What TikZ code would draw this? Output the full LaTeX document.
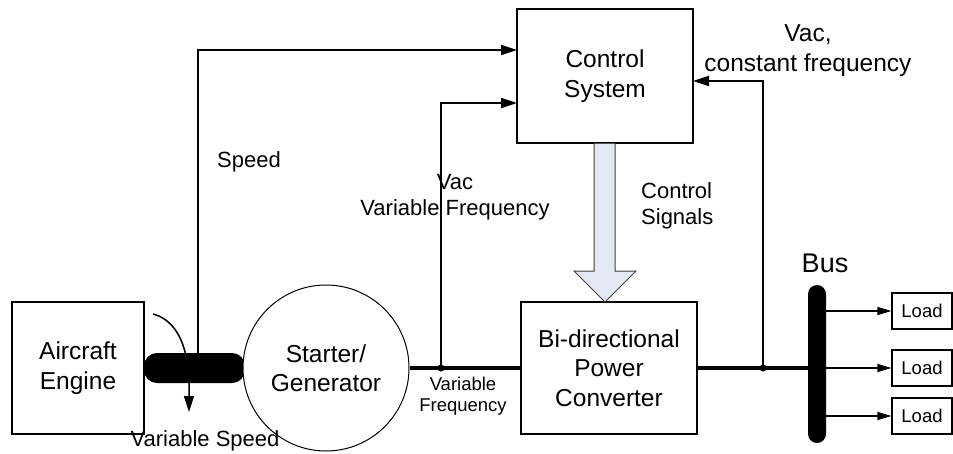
\documentclass[tikz,border=0pt]{standalone}
\usepackage{fontspec}
\setmainfont{Liberation Sans}
\usetikzlibrary{arrows.meta,calc}
\begin{document}
\begin{tikzpicture}[x=1pt,y=-1pt,
  box/.style={draw,line width=1.2pt,fill=white,align=center,inner sep=0pt,font=\fontsize{24.5}{29.5}\selectfont},
  loadbox/.style={draw,line width=1.1pt,minimum width=60pt,minimum height=36pt,inner sep=0pt,font=\fontsize{18.5}{21}\selectfont},
  conn/.style={line width=1.9pt,-{Triangle[length=16pt,width=10pt]}},
  lconn/.style={line width=1.2pt,-{Triangle[length=14pt,width=8pt]}},
  power/.style={line width=3.4pt},
  lbl/.style={inner sep=0pt,align=center,font=\fontsize{22}{26}\selectfont},
  jdot/.style={circle,fill=black,inner sep=0pt,minimum size=7pt}
]
\useasboundingbox (0,0) rectangle (953,453);

% curved rotation arrow (behind shaft)
\draw[line width=1.5pt,-{Triangle[length=16pt,width=10pt]}] (153,314) .. controls (176,320) and (188,345) .. (189,382) -- (189,412);

% shaft
\node[fill=black,rounded corners=13pt,minimum width=101pt,minimum height=30pt,inner sep=0pt] (shaft) at (194.5,368) {};

% blocks
\node[box,minimum width=132pt,minimum height=132pt] (engine) at (78,368) {Aircraft\\Engine};
\node[box,circle,line width=1pt,minimum size=166pt] (sg) at (326,368) {Starter/\\Generator};
\node[box,minimum width=176pt,minimum height=132pt] (conv) at (609,368) {Bi-directional\\Power\\Converter};
\node[box,minimum width=176pt,minimum height=134pt] (ctrl) at (605,76) {Control\\System};

% bus
\node[fill=black,rounded corners=9pt,minimum width=18pt,minimum height=158pt,inner sep=0pt] (bus) at (817,364) {};
\node[lbl,font=\fontsize{27}{30}\selectfont] (buslbl) at (825,263) {Bus};

% loads
\node[loadbox] (l1) at (922,311) {Load};
\node[loadbox] (l2) at (922,368) {Load};
\node[loadbox] (l3) at (922,416) {Load};

% power lines
\draw[power] (sg.east) -- (conv.west);
\draw[power] (conv.east) -- (bus.west |- conv.east);
\node[jdot] (j1) at (441,368) {};
\node[jdot] (j2) at (763,368) {};

% signal connectors
\coordinate (spd) at (198,354);
\coordinate (c1) at (517,50);
\coordinate (c2) at (517,103);
\coordinate (c3) at (693,81);
\draw[conn] (spd) |- (c1);
\draw[conn] (j1.center) |- (c2);
\draw[conn] (j2.center) |- (c3);

% load connectors
\draw[lconn] (bus.east |- l1.west) -- (l1.west);
\draw[lconn] (bus.east |- l2.west) -- (l2.west);
\draw[lconn] (bus.east |- l3.west) -- (l3.west);

% control signals hollow arrow
\draw[line width=1pt,draw=black!75,fill={rgb,255:red,228;green,233;blue,244}]
  (594,143.6) -- (594,271) -- (574,271) -- (605,302) -- (636,271) -- (615,271) -- (615,143.6);

% labels
\node[lbl] (speedlbl) at (249,162) {Speed};
\node[lbl] (vaclbl) at (455,197) {Vac\\Variable Frequency};
\node[lbl,align=left,anchor=west] (cslbl) at (641,206) {Control\\Signals};
\node[lbl,font=\fontsize{24.5}{30}\selectfont] (vcflbl) at (808,51) {Vac,\\constant frequency};
\node[lbl,font=\fontsize{18.5}{21}\selectfont] (vflbl) at (463,396) {Variable\\Frequency};
\node[lbl] (vslbl) at (205,441) {Variable Speed};
\end{tikzpicture}
\end{document}
